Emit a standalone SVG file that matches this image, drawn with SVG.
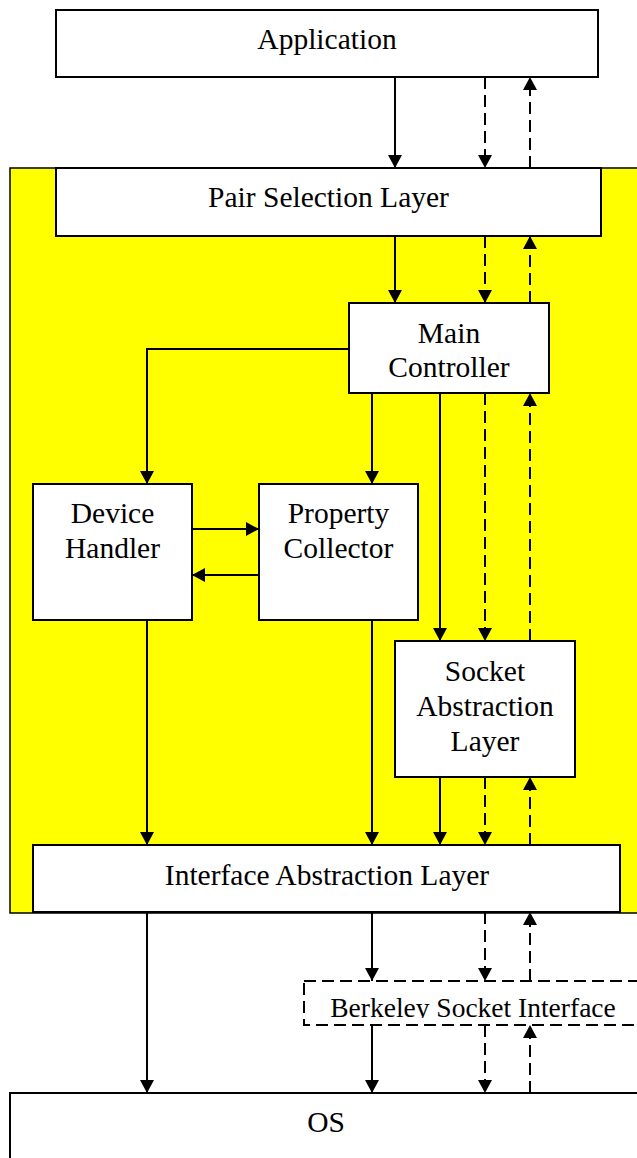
<svg xmlns="http://www.w3.org/2000/svg" width="637" height="1158" viewBox="0 0 637 1158">
<style>
.box{fill:#ffffff;stroke:#000000;stroke-width:2}
.dbox{fill:#ffffff;stroke:#000000;stroke-width:2;stroke-dasharray:12 6}
.t{font-family:"Liberation Serif","Times New Roman",serif;font-size:29.5px;fill:#000000;text-anchor:middle}
.ts{font-family:"Liberation Serif","Times New Roman",serif;font-size:27.5px;fill:#000000;text-anchor:middle}
.c{fill:none;stroke:#000000;stroke-width:2;marker-end:url(#ah)}
.d{fill:none;stroke:#000000;stroke-width:2;stroke-dasharray:12 6;marker-end:url(#ah)}
</style>
<defs>
<marker id="ah" markerUnits="userSpaceOnUse" markerWidth="14" markerHeight="14" refX="13" refY="7" orient="auto" viewBox="0 0 14 14">
<path d="M0,0 L13,7 L0,14 z" fill="#000000" stroke="none"/>
</marker>
<clipPath id="bclip"><rect x="304" y="981" width="340" height="37"/></clipPath>
</defs>
<rect width="637" height="1158" fill="#ffffff"/>
<g id="container"><rect x="10" y="168" width="640" height="745" fill="#ffff00" stroke="#000000" stroke-width="1.5"/></g>
<g id="connectors">
<line class="c" x1="395" y1="77" x2="395" y2="168"/>
<line class="d" x1="485" y1="77" x2="485" y2="168"/>
<line class="d" x1="530" y1="168" x2="530" y2="77"/>
<line class="c" x1="395" y1="236" x2="395" y2="303"/>
<line class="d" x1="485" y1="236" x2="485" y2="303"/>
<line class="d" x1="530" y1="303" x2="530" y2="236"/>
<polyline class="c" points="349,349 147,349 147,484"/>
<line class="c" x1="372" y1="393" x2="372" y2="484"/>
<line class="c" x1="440" y1="393" x2="440" y2="641"/>
<line class="d" x1="485" y1="393" x2="485" y2="641"/>
<line class="d" x1="530" y1="641" x2="530" y2="393"/>
<line class="c" x1="192" y1="529" x2="259" y2="529"/>
<line class="c" x1="259" y1="575" x2="192" y2="575"/>
<line class="c" x1="147" y1="620" x2="147" y2="845"/>
<line class="c" x1="372" y1="620" x2="372" y2="845"/>
<line class="c" x1="440" y1="777" x2="440" y2="845"/>
<line class="d" x1="485" y1="777" x2="485" y2="845"/>
<line class="d" x1="530" y1="845" x2="530" y2="777"/>
<line class="c" x1="147" y1="912" x2="147" y2="1093"/>
<line class="c" x1="372" y1="912" x2="372" y2="981"/>
<line class="d" x1="485" y1="912" x2="485" y2="981"/>
<line class="d" x1="530" y1="981" x2="530" y2="912"/>
<line class="c" x1="372" y1="1025" x2="372" y2="1093"/>
<line class="d" x1="485" y1="1025" x2="485" y2="1093"/>
<line class="d" x1="530" y1="1093" x2="530" y2="1025"/>
</g>
<g id="application"><rect class="box" x="56" y="10" width="542" height="67"/><text class="t" x="327" y="49">Application</text></g>
<g id="pair-selection"><rect class="box" x="56" y="168" width="545" height="68"/><text class="t" x="328.5" y="207">Pair Selection Layer</text></g>
<g id="main-controller"><rect class="box" x="349" y="303" width="200" height="90"/><text class="t" x="449" y="343">Main</text><text class="t" x="449" y="377">Controller</text></g>
<g id="device-handler"><rect class="box" x="33" y="484" width="159" height="136"/><text class="t" x="112.5" y="523">Device</text><text class="t" x="112.5" y="558">Handler</text></g>
<g id="property-collector"><rect class="box" x="259" y="484" width="159" height="136"/><text class="t" x="338.5" y="523">Property</text><text class="t" x="338.5" y="558">Collector</text></g>
<g id="socket-abstraction"><rect class="box" x="395" y="641" width="180" height="136"/><text class="t" x="485" y="681">Socket</text><text class="t" x="485" y="716">Abstraction</text><text class="t" x="485" y="751">Layer</text></g>
<g id="interface-abstraction"><rect class="box" x="33" y="845" width="587" height="67"/><text class="t" x="327" y="885">Interface Abstraction Layer</text></g>
<g id="berkeley"><rect class="dbox" x="304" y="981" width="350" height="44"/><text class="ts" x="473" y="1017" clip-path="url(#bclip)">Berkeley Socket Interface</text></g>
<g id="os"><rect class="box" x="10" y="1093" width="640" height="80"/><text class="t" x="326" y="1132">OS</text></g>
</svg>
